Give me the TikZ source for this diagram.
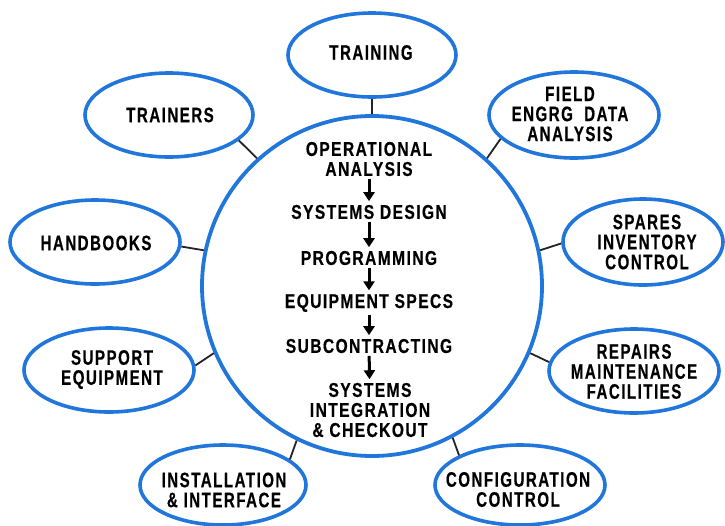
\documentclass[tikz,border=0pt]{standalone}
\usepackage{fontspec}
\setmainfont{Liberation Sans}[FakeStretch=0.72,LetterSpace=7,FakeBold=0.4]
\newfontfamily\hubfont{Liberation Sans}[FakeStretch=0.78,LetterSpace=7,FakeBold=0.4]
\usetikzlibrary{shapes.geometric,arrows.meta}
\definecolor{bblue}{RGB}{32,118,218}
\definecolor{conncol}{RGB}{35,35,40}
\tikzset{
  bub/.style={ellipse,draw=bblue,line width=3.6pt,inner sep=0pt},
  hub/.style={circle,draw=bblue,line width=3.8pt,inner sep=0pt,minimum size=340pt},
  lbl/.style={font=\fontsize{21}{20}\selectfont\bfseries,align=center,inner sep=0pt},
  hlbl/.style={font=\hubfont\fontsize{20}{20}\selectfont\bfseries,align=center,inner sep=0pt},
  conn/.style={draw=conncol,line width=1.8pt},
  flow/.style={draw=black,line width=3pt,-{Triangle[width=11pt,length=9pt]},shorten <=2.5pt,shorten >=3.5pt}
}
\begin{document}
\begin{tikzpicture}[x=1pt,y=-1pt]
\useasboundingbox (0,0) rectangle (725,525);
\fill[white] (0,0) rectangle (725,525);
% hub
\node[hub] (C) at (372,286) {};
% satellites
\node[bub,minimum width=168pt,minimum height=84pt] (trg) at (372,55) {};
\node[bub,minimum width=168pt,minimum height=84pt] (trs) at (169,115) {};
\node[bub,minimum width=170pt,minimum height=86pt] (fld) at (574,115) {};
\node[bub,minimum width=170pt,minimum height=84pt] (hbk) at (95,242) {};
\node[bub,minimum width=160pt,minimum height=86pt] (spr) at (643,242) {};
\node[bub,minimum width=170pt,minimum height=84pt] (sup) at (109,370) {};
\node[bub,minimum width=170pt,minimum height=84pt] (rep) at (634,371) {};
\node[bub,minimum width=166pt,minimum height=80pt] (ins) at (223,485) {};
\node[bub,minimum width=170pt,minimum height=80pt] (cfg) at (520,485) {};
% satellite labels
\node[lbl] (ttrg) at (371,52.5) {TRAINING};
\node[lbl] (ttrs) at (170,115) {TRAINERS};
\node[lbl] (tfld) at (570,114) {FIELD\\ENGRG\ \ DATA\\ANALYSIS};
\node[lbl] (thbk) at (96,243) {HANDBOOKS};
\node[lbl] (tspr) at (647,242) {SPARES\\INVENTORY\\CONTROL};
\node[lbl] (tsup) at (112,369.5) {SUPPORT\\EQUIPMENT};
\node[lbl] (trep) at (634,371.5) {REPAIRS\\MAINTENANCE\\FACILITIES};
\node[lbl] (tins) at (224,490) {INSTALLATION\\\& INTERFACE};
\node[lbl] (tcfg) at (518,489.5) {CONFIGURATION\\CONTROL};
% connectors
\draw[conn] (C.90) -- (trg.-90);
\draw[conn] (C.132.4) -- (trs.-20);
\draw[conn] (C.48.6) -- (fld.198.4);
\draw[conn] (C.168.6) -- (hbk.-3.4);
\draw[conn] (C.12.4) -- (spr.181.4);
\draw[conn] (C.203.7) -- (sup.3.4);
\draw[conn] (C.-23.2) -- (rep.174.6);
\draw[conn] (C.-116) -- (ins.21.8);
\draw[conn] (C.-62.2) -- (cfg.154.2);
% central flow
\node[hlbl] (op) at (369,159) {OPERATIONAL\\ANALYSIS};
\node[hlbl] (sd) at (369,212) {SYSTEMS DESIGN};
\node[hlbl] (pr) at (369,258) {PROGRAMMING};
\node[hlbl] (eq) at (369,303) {EQUIPMENT SPECS};
\node[hlbl] (sc) at (369,346) {SUBCONTRACTING};
\node[hlbl] (si) at (370,410) {SYSTEMS\\INTEGRATION\\\& CHECKOUT};
\draw[flow] (op) -- (sd);
\draw[flow] (sd) -- (pr);
\draw[flow] (pr) -- (eq);
\draw[flow] (eq) -- (sc);
\draw[flow] (sc) -- (si);
\end{tikzpicture}
\end{document}
